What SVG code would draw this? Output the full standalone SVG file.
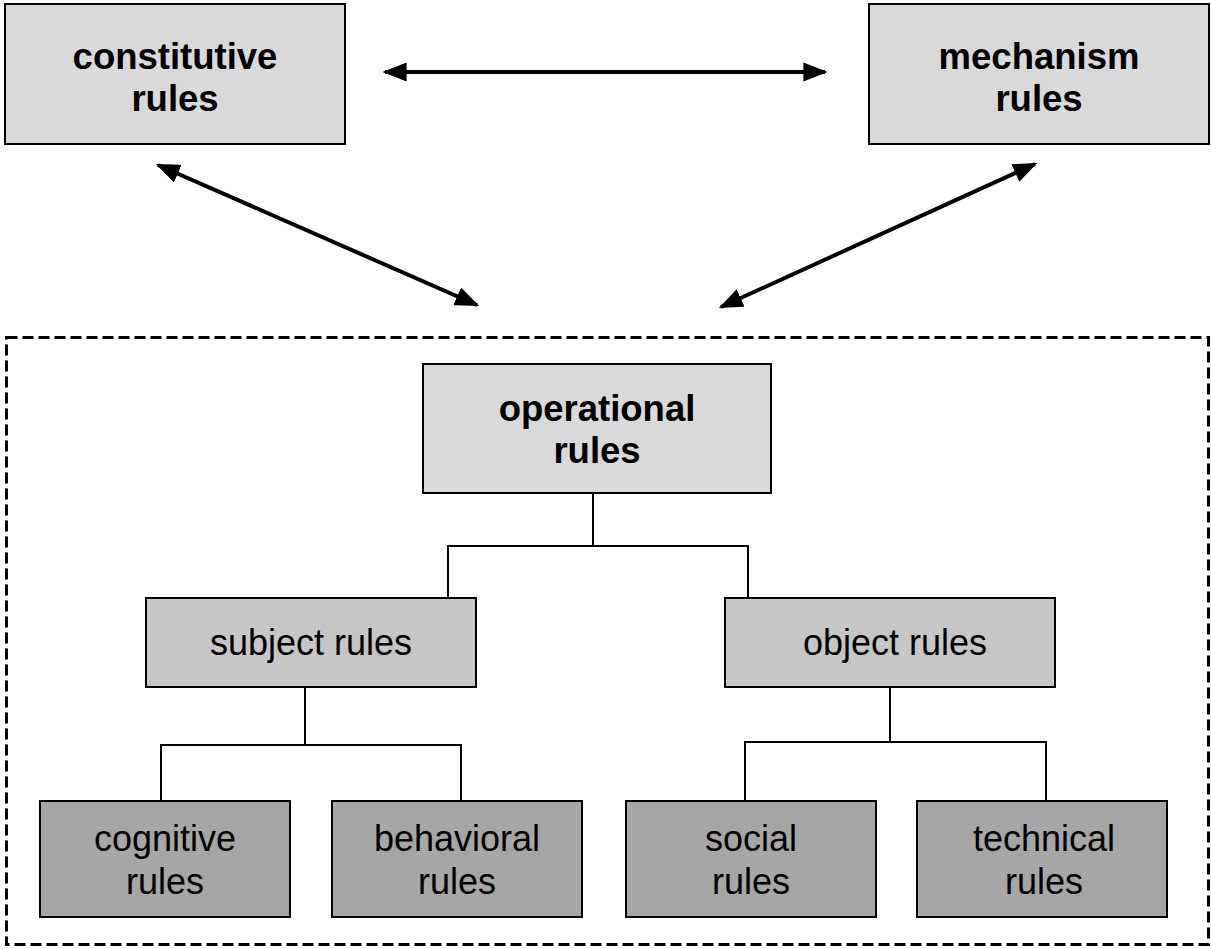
<svg xmlns="http://www.w3.org/2000/svg" width="1211" height="949" viewBox="0 0 1211 949">
<style>
.box{stroke:#000;stroke-width:2}
.l1{fill:#d9d9d9}
.l2{fill:#c6c6c6}
.l3{fill:#a6a6a6}
text{font-family:"Liberation Sans",Arial,sans-serif;font-size:36px;text-anchor:middle;fill:#000}
.b{font-weight:bold;font-size:36.5px}
.tree{fill:none;stroke:#000;stroke-width:2}
.arr{stroke:#000;stroke-width:4;marker-start:url(#ah);marker-end:url(#ah)}
</style>
<defs>
<marker id="ah" viewBox="0 0 10 10" refX="9" refY="5" markerWidth="6" markerHeight="4.8" orient="auto-start-reverse" markerUnits="strokeWidth" preserveAspectRatio="none">
<path d="M0,0 L10,5 L0,10 z" fill="#000"/>
</marker>
</defs>
<rect id="boundary" x="6.5" y="337.5" width="1202" height="607" fill="none" stroke="#000" stroke-width="3" stroke-dasharray="11,5"/>
<g id="connectors">
<line class="arr" x1="385" y1="72" x2="825" y2="72"/>
<line class="arr" x1="158" y1="165" x2="477" y2="305"/>
<line class="arr" x1="1035" y1="164" x2="721" y2="307"/>
<path class="tree" d="M593,493 V546 M448,598 V546 H748 V598"/>
<path class="tree" d="M305,687 V745 M161,801 V745 H461 V801"/>
<path class="tree" d="M890,687 V742 M745,801 V742 H1046 V801"/>
</g>
<g id="constitutive">
<rect class="box l1" x="5" y="4" width="340" height="140"/>
<text class="b" x="175" y="69">constitutive</text>
<text class="b" x="175" y="111">rules</text>
</g>
<g id="mechanism">
<rect class="box l1" x="869" y="4" width="340" height="140"/>
<text class="b" x="1039" y="69">mechanism</text>
<text class="b" x="1039" y="111">rules</text>
</g>
<g id="operational">
<rect class="box l1" x="423" y="364" width="348" height="129"/>
<text class="b" x="597" y="421">operational</text>
<text class="b" x="597" y="463">rules</text>
</g>
<g id="subject">
<rect class="box l2" x="146" y="598" width="330" height="89"/>
<text x="311" y="655">subject rules</text>
</g>
<g id="object">
<rect class="box l2" x="725" y="598" width="330" height="89"/>
<text x="895" y="655">object rules</text>
</g>
<g id="cognitive">
<rect class="box l3" x="40" y="801" width="250" height="116"/>
<text x="165" y="851">cognitive</text>
<text x="165" y="894">rules</text>
</g>
<g id="behavioral">
<rect class="box l3" x="332" y="801" width="250" height="116"/>
<text x="457" y="851">behavioral</text>
<text x="457" y="894">rules</text>
</g>
<g id="social">
<rect class="box l3" x="626" y="801" width="250" height="116"/>
<text x="751" y="851">social</text>
<text x="751" y="894">rules</text>
</g>
<g id="technical">
<rect class="box l3" x="917" y="801" width="250" height="116"/>
<text x="1044" y="851">technical</text>
<text x="1044" y="894">rules</text>
</g>
</svg>
